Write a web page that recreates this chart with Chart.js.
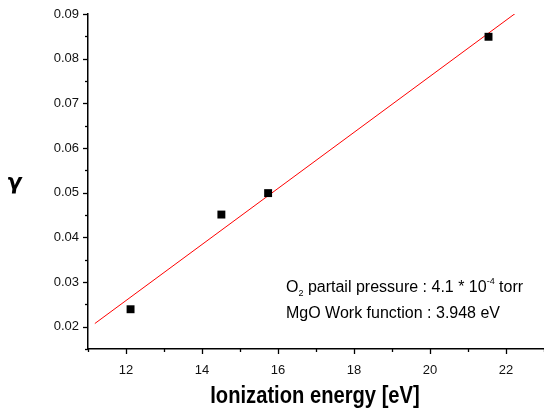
<!DOCTYPE html>
<html>
<head>
<meta charset="utf-8">
<script src="https://cdn.jsdelivr.net/npm/chart.js"></script>
<style>
  html, body { margin: 0; padding: 0; background: #fff; }
  #wrap { width: 544px; height: 411px; position: relative; }
</style>
</head>
<body>
<div id="wrap"><canvas id="chart" width="544" height="411"></canvas></div>
<script>
// measured points (ionization energy [eV], gamma)
const energy = [12.12, 14.51, 15.74, 21.54];
const gamma = [0.0239, 0.0451, 0.0499, 0.0849];
// linear fit line endpoints
const fitX = [11.18, 22.24];
const fitY = [0.0207, 0.0901];

const xMin = 11, xMax = 23;
const yMin = 0.015, yMax = 0.09;

const FONT = '"Liberation Sans", Arial, sans-serif';

// draws major/minor tick marks + annotation texts
const decor = {
    id: 'decor',
    afterDraw(chart) {
        const ctx = chart.ctx;
        const xs = chart.scales.x, ys = chart.scales.y;
        const area = chart.chartArea;
        ctx.save();
        ctx.strokeStyle = '#000';
        ctx.lineWidth = 1.3;
        for (let v = 11; v <= 23; v++) {
            const px = Math.round(xs.getPixelForValue(v)) + 0.5;
            const len = v % 2 === 0 ? 5 : 3;
            ctx.beginPath();
            ctx.moveTo(px, area.bottom);
            ctx.lineTo(px, area.bottom + len);
            ctx.stroke();
        }
        for (let i = 0; i <= 15; i++) {
            const v = 0.015 + i * 0.005;
            const py = Math.round(ys.getPixelForValue(v)) + 0.5;
            const len = i % 2 === 1 ? 5 : 3;
            ctx.beginPath();
            ctx.moveTo(area.left, py);
            ctx.lineTo(area.left - len, py);
            ctx.stroke();
        }

        ctx.fillStyle = '#000';
        ctx.textBaseline = 'alphabetic';
        ctx.textAlign = 'left';
        ctx.font = '16px ' + FONT;
        let x = 286, y = 292;
        ctx.fillText('O', x, y);
        x += ctx.measureText('O').width;
        ctx.font = '9px ' + FONT;
        ctx.fillText('2', x, y + 4);
        x += ctx.measureText('2').width;
        ctx.font = '16px ' + FONT;
        let s = ' partail pressure : 4.1 * 10';
        ctx.fillText(s, x, y);
        x += ctx.measureText(s).width;
        ctx.font = '9px ' + FONT;
        ctx.fillText('-4', x, y - 8);
        x += ctx.measureText('-4').width;
        ctx.font = '16px ' + FONT;
        ctx.fillText(' torr', x, y);
        ctx.fillText('MgO Work function : 3.948 eV', 286, 318);

        // condensed bold axis title
        ctx.save();
        ctx.translate(315, 403);
        ctx.scale(0.84, 1);
        ctx.font = 'bold 24px ' + FONT;
        ctx.textAlign = 'center';
        ctx.fillText('Ionization energy [eV]', 0, 0);
        ctx.restore();

        // slightly slanted gamma
        ctx.save();
        ctx.translate(14, 189);
        ctx.transform(1, 0, -0.12, 1, 0, 0);
        ctx.font = 'bold 22px "DejaVu Sans", sans-serif';
        ctx.textAlign = 'center';
        ctx.fillText('\u03b3', 0, 0);
        ctx.restore();
        ctx.restore();
    }
};

new Chart(document.getElementById('chart'), {
    type: 'scatter',
    data: {
        datasets: [{
            label: 'data',
            data: energy.map((e, i) => ({ x: e, y: gamma[i] })),
            pointStyle: 'rect',
            pointRadius: 5.6,
            backgroundColor: '#000',
            borderColor: '#000',
            borderWidth: 0
        }, {
            label: 'fit',
            type: 'line',
            data: fitX.map((e, i) => ({ x: e, y: fitY[i] })),
            borderColor: '#ff0000',
            borderWidth: 1,
            pointRadius: 0,
            fill: false
        }]
    },
    options: {
        responsive: false,
        animation: false,
        layout: { autoPadding: false, padding: { top: 14, right: 0, left: 0, bottom: 0 } },
        plugins: { legend: { display: false }, tooltip: { enabled: false } },
        scales: {
            x: {
                type: 'linear',
                min: xMin, max: xMax,
                grid: { display: false },
                border: { display: true, color: '#000', width: 1.5 },
                ticks: {
                    stepSize: 1,
                    autoSkip: false,
                    maxRotation: 0,
                    padding: 6,
                    color: '#111',
                    font: { family: FONT, size: 13 },
                    callback: v => (v % 2 === 0 && v > xMin && v < xMax) ? String(v) : ''
                },
                afterFit: s => { s.height = 62; s.paddingRight = 0; s.paddingLeft = 0; }
            },
            y: {
                type: 'linear',
                min: yMin, max: yMax,
                grid: { display: false },
                border: { display: true, color: '#000', width: 1.5 },
                ticks: {
                    stepSize: 0.01,
                    padding: 1,
                    color: '#111',
                    font: { family: FONT, size: 13 },
                    callback: v => {
                        const r = Math.round(v * 1000) / 1000;
                        return (Math.round(r * 1000) % 10 === 0 && r >= 0.02) ? r.toFixed(2) : '';
                    }
                },
                afterFit: s => { s.width = 88; }
            }
        }
    },
    plugins: [decor]
});
</script>
</body>
</html>
